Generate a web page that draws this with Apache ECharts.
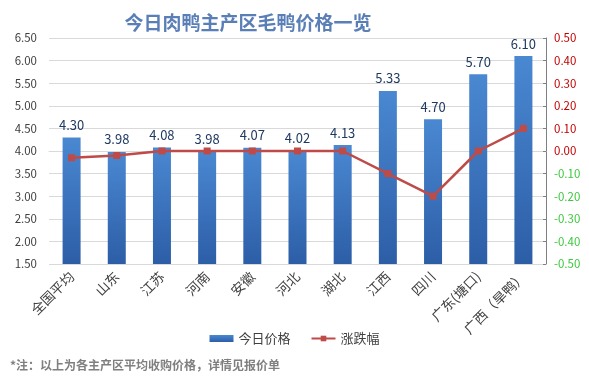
<!DOCTYPE html>
<html><head><meta charset="utf-8">
<script src="https://cdn.jsdelivr.net/npm/echarts@6/dist/echarts.min.js"></script>
<style>html,body{margin:0;padding:0;background:#fff}#c{width:589px;height:390px}</style>
</head><body><div id="c"></div>
<script>
const categories = ['全国平均','山东','江苏','河南','安徽','河北','湖北','江西','四川','广东(塘口)','广西（旱鸭）'];
const prices = [4.30,3.98,4.08,3.98,4.07,4.02,4.13,5.33,4.70,5.70,6.10];
const changes = [-0.03,-0.02,0.00,0.00,0.00,0.00,0.00,-0.10,-0.20,0.00,0.10];
const leftTicks = [1.5,6.5,0.5];
const rightTicks = [-0.5,0.5,0.1];

const chart = echarts.init(document.getElementById('c'));
const font = '"Noto Sans CJK SC", "Noto Sans", sans-serif';
chart.setOption({
  animation:false,
  textStyle:{fontFamily:font},
  title:{text:'今日肉鸭主产区毛鸭价格一览',left:243,textAlign:'center',top:8,
    textStyle:{fontSize:19,fontWeight:'bold',color:'#5a7fb6',fontFamily:font}},
  legend:{bottom:40,left:'center',itemGap:20,itemWidth:24,itemHeight:7,
    textStyle:{fontSize:13,color:'#404040'},
    data:[{name:'今日价格',icon:'rect'},{name:'涨跌幅'}]},
  graphic:[{type:'text',left:10,top:359,style:{text:'*注：以上为各主产区平均收购价格，详情见报价单',fontSize:12,fontWeight:'bold',fill:'#7f7f7f',fontFamily:font}}],
  grid:{left:49,right:43,top:38,bottom:126},
  xAxis:{type:'category',data:categories,
    axisLine:{show:true,lineStyle:{color:'#d9d9d9'}},axisTick:{show:false},
    axisLabel:{rotate:45,fontSize:13.5,color:'#404040',interval:0,margin:10}},
  yAxis:[
    {type:'value',min:leftTicks[0],max:leftTicks[1],interval:leftTicks[2],
     axisLine:{show:false},axisTick:{show:false},
     splitLine:{lineStyle:{color:'#d9d9d9'}},
     axisLabel:{formatter:v=>v.toFixed(2),fontSize:11.5,color:'#404040',margin:12}},
    {type:'value',min:rightTicks[0],max:rightTicks[1],interval:rightTicks[2],
     axisLine:{show:true,lineStyle:{color:'#808080'}},
     axisTick:{show:true,inside:true,length:3,lineStyle:{color:'#808080'}},
     splitLine:{show:false},
     axisLabel:{formatter:v=>v.toFixed(2),fontSize:11.5,margin:8,
       color:v=>(parseFloat(v)<-0.001?'#3cc83c':'#c00000')}}
  ],
  series:[
    {name:'今日价格',type:'bar',data:prices,barWidth:18,yAxisIndex:0,
     itemStyle:{color:new echarts.graphic.LinearGradient(0,0,0,1,[{offset:0,color:'#4a88d2'},{offset:1,color:'#2c5ea6'}])},
     label:{show:true,position:'top',formatter:p=>p.value.toFixed(2),fontSize:13,color:'#1f3a60',distance:6}},
    {name:'涨跌幅',type:'line',data:changes,yAxisIndex:1,symbol:'rect',symbolSize:7,
     lineStyle:{color:'#be4b48',width:2.5},itemStyle:{color:'#be4b48'}}
  ]
});
</script></body></html>
